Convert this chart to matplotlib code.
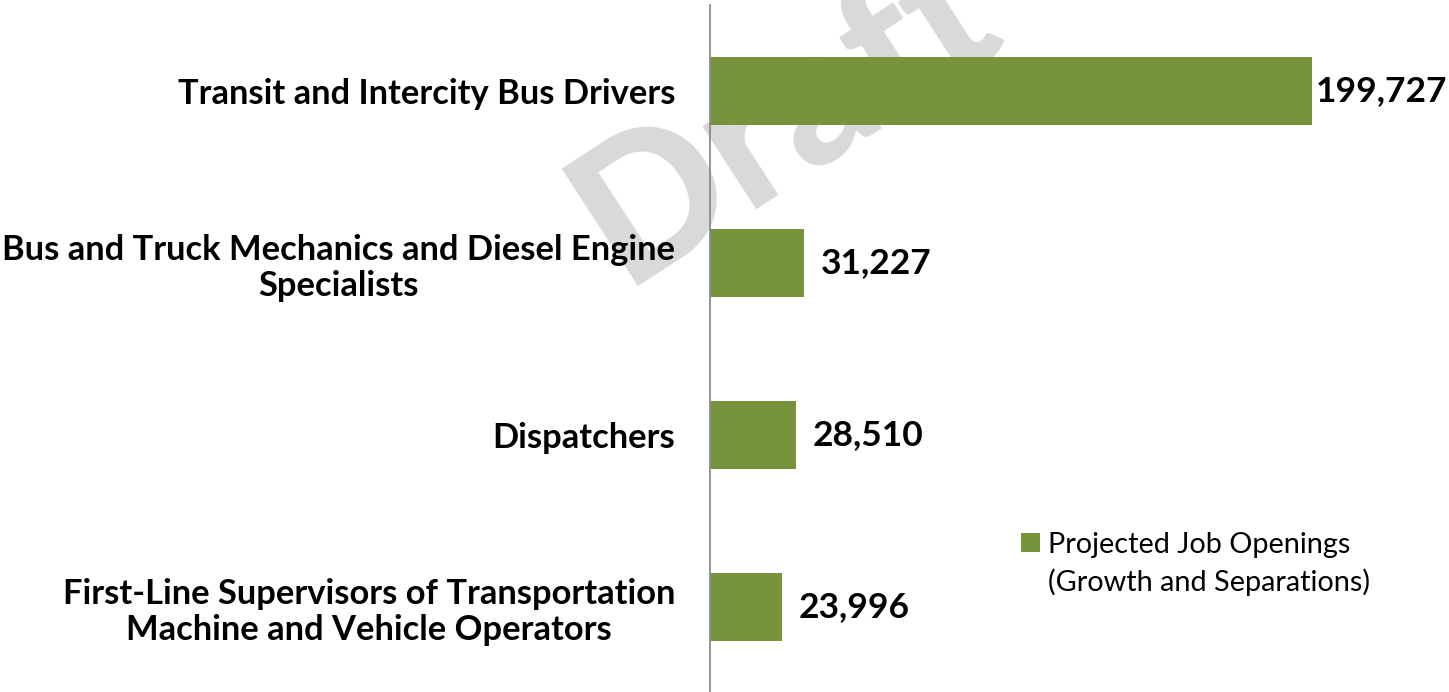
"""Projected job openings by occupation, horizontal bar chart"""

import matplotlib
matplotlib.use("Agg")
import matplotlib.pyplot as plt
import matplotlib.transforms as mtransforms

plt.rcParams["font.family"] = ["Lato", "DejaVu Sans"]

occupations = [
    "Transit and Intercity Bus Drivers",
    "Bus and Truck Mechanics and Diesel Engine\nSpecialists",
    "Dispatchers",
    "First-Line Supervisors of Transportation\nMachine and Vehicle Operators",
]
openings = [199727, 31227, 28510, 23996]
series_name = "Projected Job Openings"
series_note = "(Growth and Separations)"

BAR_COLOR = "#77933C"
W, H = 1449, 692

fig = plt.figure(figsize=(W / 100, H / 100), dpi=100)
ax = fig.add_axes([710 / W, -1 / H, 1 - 710 / W, 1 - 4 / H])

# watermark sits behind everything, anchored on the middle of its baseline
ax.text(815 / W, 1 - 162 / H, "Draft", transform=fig.transFigure,
        fontsize=138, fontweight="black", color="#D9D9D9", rotation=33,
        rotation_mode="anchor", ha="center", va="baseline", zorder=0,
        clip_on=False)

ypos = list(range(len(occupations)))
bars = ax.barh(ypos, openings, height=0.4, color=BAR_COLOR, zorder=2,
               label=series_name)

ax.set_xlim(0, 245200)
ax.set_ylim(len(occupations) - 0.5, -0.5)
ax.set_yticks(ypos)
ax.set_yticklabels(occupations, fontsize=24.8, fontweight="bold")
for lab in ax.get_yticklabels():
    lab.set_multialignment("center")
    lab.set_linespacing(1.15)
ax.tick_params(axis="y", length=0, pad=25)
ax.tick_params(axis="x", bottom=False, labelbottom=False)
for side in ["top", "right", "bottom"]:
    ax.spines[side].set_visible(False)
ax.spines["left"].set_color("#8C8C8C")
ax.spines["left"].set_linewidth(1.3)
ax.spines["left"].set_zorder(3)
ax.patch.set_alpha(0)

biggest = max(openings)
for y, v in zip(ypos, openings):
    if v == biggest:
        trans = mtransforms.blended_transform_factory(ax.transAxes, ax.transData)
        ax.text(0.998, y, f"{v:,}", transform=trans, ha="right", va="center",
                fontsize=25.5, fontweight="bold", zorder=4)
    else:
        ax.annotate(f"{v:,}", (v, y), xytext=(12, 0),
                    textcoords="offset points", ha="left", va="center",
                    fontsize=25.5, fontweight="bold", zorder=4)

leg = ax.legend(handles=[bars], labels=[series_name], loc="upper left",
                bbox_to_anchor=(1021 / W, 1 - 532 / H),
                bbox_transform=fig.transFigure, frameon=False, fontsize=20.8,
                handlelength=0.65, handleheight=0.65, handletextpad=0.3,
                borderpad=0, borderaxespad=0)

fig.canvas.draw()
bb = leg.get_texts()[0].get_window_extent()
fig.text(bb.x0 / W, (bb.y0 - 38) / H, series_note, fontsize=20.8,
         ha="left", va="bottom")

fig.savefig("out.png", dpi=100)
